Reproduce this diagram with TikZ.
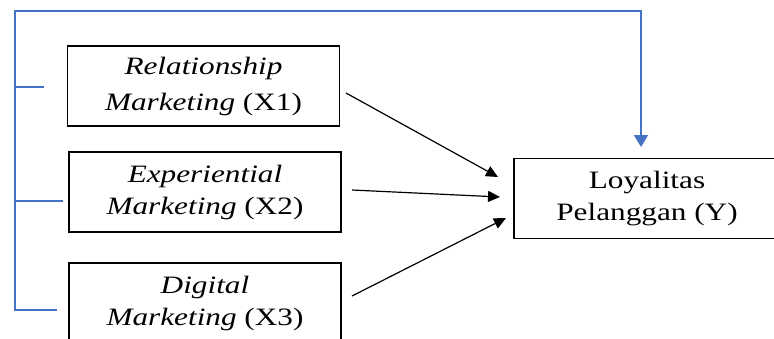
\documentclass[tikz,border=0pt]{standalone}
\usepackage{fontspec}
\setmainfont{Liberation Serif}[FakeStretch=1.25]
\usetikzlibrary{arrows.meta, positioning}
\definecolor{linkblue}{RGB}{68, 114, 196}

\begin{document}
\begin{tikzpicture}[
    x=0.5pt, y=-0.5pt,
    var/.style={draw=black, line width=0.8pt, align=center, inner sep=0pt,
        minimum width=136pt, minimum height=40pt, font=\fontsize{12.5}{16}\selectfont},
    path/.style={line width=0.6pt, -{Triangle[length=6pt, width=5.5pt]}},
    feed/.style={linkblue, line width=0.8pt}
]
\clip (0,0) rectangle (774,338);

% independent variables
\node[var, font=\fontsize{12.5}{18}\selectfont] (x1) at (203.5,86) {\textit{Relationship}\\\textit{Marketing} (X1)};
\node[var] (x2) at (205,192) {\textit{Experiential}\\\textit{Marketing} (X2)};
\node[var] (x3) at (205,303) {\textit{Digital}\\\textit{Marketing} (X3)};

% dependent variable
\node[var, minimum width=133pt] (y) at (647,198.5) {Loyalitas\\Pelanggan (Y)};

% partial paths
\coordinate (p1s) at (346,93);  \coordinate (p1e) at (498,177);
\coordinate (p2s) at (352,190); \coordinate (p2e) at (500,197);
\coordinate (p3s) at (352,296); \coordinate (p3e) at (506,218);
\draw[path] (p1s) -- (p1e);
\draw[path] (p2s) -- (p2e);
\draw[path] (p3s) -- (p3e);

% simultaneous path
\coordinate (b1) at (44,87);  \coordinate (s1) at (15,87);
\coordinate (b2) at (63,201); \coordinate (s2) at (15,201);
\coordinate (b3) at (57,310); \coordinate (s3) at (15,310);
\coordinate (s0) at (15,11);  \coordinate (top) at (641,11);
\coordinate (ytop) at (641,158);
\draw[feed, shorten >=5.5pt, -{Triangle[length=6pt, width=7pt]}]
    (b3) -- (s3) -- (s0) -- (top) -- (ytop);
\draw[feed] (b1) -- (s1);
\draw[feed] (b2) -- (s2);

\end{tikzpicture}
\end{document}
